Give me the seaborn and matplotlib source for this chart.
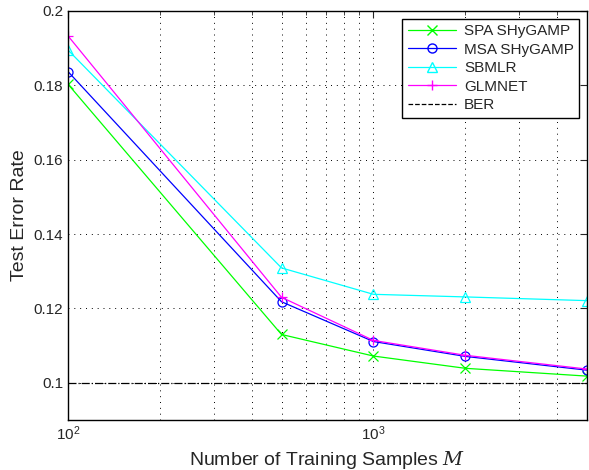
import numpy as np
import pandas as pd
import matplotlib
matplotlib.use("Agg")
import matplotlib.pyplot as plt
import seaborn as sns
from matplotlib.lines import Line2D
from matplotlib.ticker import FuncFormatter, LogLocator, NullFormatter

samples = [100, 500, 1000, 2000, 5000]
spa = [0.1803, 0.1130, 0.1072, 0.1039, 0.1018]
msa = [0.1837, 0.1218, 0.1111, 0.1071, 0.1034]
sbmlr = [0.1895, 0.1309, 0.1238, 0.1231, 0.1221]
glmnet = [0.1933, 0.1230, 0.1114, 0.1074, 0.1037]
ber = 0.1

names = ["SPA SHyGAMP", "MSA SHyGAMP", "SBMLR", "GLMNET"]
colors = ["#00ff00", "#0000ff", "#00ffff", "#ff00ff"]
markers = ["x", "o", "^", "+"]

sns.set_style("white")
plt.rcParams["font.family"] = ["Liberation Sans", "DejaVu Sans"]
plt.rcParams["mathtext.fontset"] = "dejavuserif"

fig = plt.figure(figsize=(5.89, 4.70), dpi=100)
ax = fig.add_axes([0.1155, 0.1064, 0.881, 0.8702])

for name, vals, c, m in zip(names, [spa, msa, sbmlr, glmnet], colors, markers):
    df = pd.DataFrame({"M": samples, "err": vals})
    sns.lineplot(data=df, x="M", y="err", ax=ax, color=c, marker=m,
                 markersize=6.5, markerfacecolor="none", markeredgecolor=c,
                 markeredgewidth=0.9, linewidth=0.9)

ax.axhline(ber, color="black", linestyle="-.", linewidth=0.9)

ax.set_xscale("log")
ax.set_xlim(100, 5000)
ax.set_ylim(0.09, 0.2)
ax.set_yticks([0.1, 0.12, 0.14, 0.16, 0.18, 0.2])
ax.yaxis.set_major_formatter(FuncFormatter(lambda v, p: "%g" % round(v, 3)))
ax.xaxis.set_major_locator(LogLocator(base=10))
ax.xaxis.set_minor_locator(LogLocator(base=10, subs=np.arange(2, 10)))
ax.xaxis.set_minor_formatter(NullFormatter())

ax.grid(True, which="major", color="black", linestyle=(0, (1, 5)), linewidth=0.7)
ax.grid(True, which="minor", axis="x", color="black", linestyle=(0, (1, 5)), linewidth=0.7)
ax.tick_params(which="both", direction="in", top=True, right=True, labelsize=11)
ax.tick_params(which="major", length=5)
ax.tick_params(which="minor", length=3)
for s in ax.spines.values():
    s.set_color("black")
    s.set_linewidth(1.0)

ax.set_xlabel("Number of Training Samples $M$", fontsize=14, labelpad=4)
ax.set_ylabel("Test Error Rate", fontsize=14)

handles = [Line2D([], [], color=c, marker=m, markerfacecolor="none",
                  markeredgecolor=c, markersize=6.5, linewidth=0.9)
           for c, m in zip(colors, markers)]
handles.append(Line2D([], [], color="black", linestyle="--", linewidth=0.9))
leg = ax.legend(handles, names + ["BER"], loc="upper right", fontsize=11,
                frameon=True, fancybox=False, edgecolor="black",
                framealpha=1, borderaxespad=0.5, handlelength=3.2,
                labelspacing=0.3, borderpad=0.35, handletextpad=0.5)
leg.get_frame().set_linewidth(1.0)

fig.savefig("out.png", dpi=100)
